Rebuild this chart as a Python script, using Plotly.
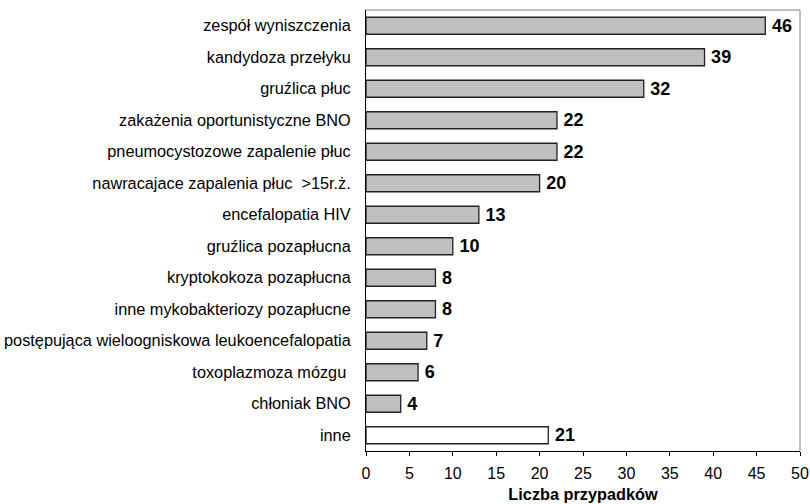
import plotly.graph_objects as go

categories = [
    "zespół wyniszczenia",
    "kandydoza przełyku",
    "gruźlica płuc",
    "zakażenia oportunistyczne BNO",
    "pneumocystozowe zapalenie płuc",
    "nawracajace zapalenia płuc  >15r.ż.",
    "encefalopatia HIV",
    "gruźlica pozapłucna",
    "kryptokokoza pozapłucna",
    "inne mykobakteriozy pozapłucne",
    "postępująca wieloogniskowa leukoencefalopatia",
    "toxoplazmoza mózgu ",
    "chłoniak BNO",
    "inne",
]
values = [46, 39, 32, 22, 22, 20, 13, 10, 8, 8, 7, 6, 4, 21]
x_ticks = [0, 5, 10, 15, 20, 25, 30, 35, 40, 45, 50]

fills = ["#c0c0c0"] * (len(categories) - 1) + ["#ffffff"]

fig = go.Figure(
    go.Bar(
        y=categories,
        x=values,
        orientation="h",
        marker=dict(color=fills, line=dict(color="#222222", width=1.3)),
        width=0.54,
        text=["\u2009" + str(v) for v in values],
        textposition="outside",
        constraintext="none",
        textfont=dict(family="Arial, Liberation Sans", size=18, color="black", weight="bold"),
        outsidetextfont=dict(family="Arial, Liberation Sans", size=18, color="black", weight="bold"),
        cliponaxis=False,
        hoverinfo="skip",
    )
)

fig.update_layout(
    width=810,
    height=504,
    margin=dict(l=366, r=10, t=10, b=53, autoexpand=False),
    paper_bgcolor="white",
    plot_bgcolor="white",
    showlegend=False,
    font=dict(family="Arial, Liberation Sans", color="black"),
    shapes=[
        dict(type="line", xref="paper", yref="paper", x0=0, x1=1, y0=1, y1=1,
             line=dict(color="#808080", width=1), layer="above"),
        dict(type="line", xref="paper", yref="paper", x0=1, x1=1, y0=0, y1=1,
             line=dict(color="#808080", width=1), layer="above"),
    ],
)

fig.update_xaxes(
    range=[0, 50],
    tickvals=x_ticks,
    ticks="outside",
    ticklen=4,
    tickcolor="black",
    showline=True,
    linecolor="black",
    linewidth=1,
    showgrid=False,
    zeroline=False,
    automargin=False,
    ticklabelstandoff=4,
    tickfont=dict(size=16, color="black"),
    title=dict(text="<b>Liczba przypadków</b>", font=dict(size=16.3, color="black"), standoff=7),
)
fig.update_yaxes(
    categoryorder="array",
    categoryarray=categories[::-1],
    range=[-0.5, len(categories) - 0.5],
    showline=True,
    linecolor="black",
    linewidth=1,
    showgrid=False,
    ticks="",
    automargin=False,
    ticklabelstandoff=11,
    tickfont=dict(size=16.3, color="black"),
)

fig.write_html(
    "out.html",
    config={"displayModeBar": False},
    post_script="document.body.style.margin='0';document.body.style.overflow='hidden';",
)
